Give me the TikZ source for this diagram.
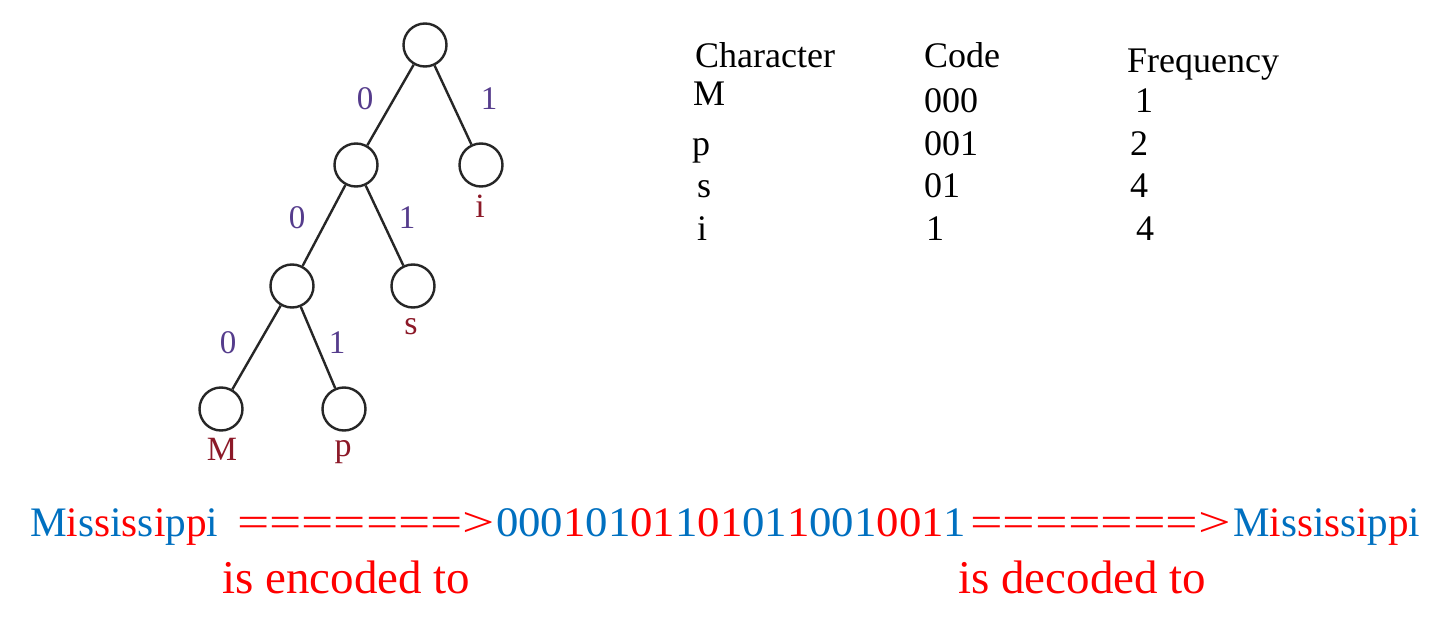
\documentclass[tikz,border=0pt]{standalone}
\usepackage{fontspec}
\setmainfont{Liberation Serif}
\usepackage{graphicx}
\definecolor{cblue}{RGB}{0,112,192}
\definecolor{cred}{RGB}{255,0,0}
\definecolor{lblpurple}{RGB}{85,60,140}
\definecolor{leafred}{RGB}{140,25,40}
\newcommand{\Bx}[1]{\textcolor{cblue}{#1}}
\newcommand{\Rx}[1]{\textcolor{cred}{#1}}
\begin{document}
\begin{tikzpicture}[x=1pt,y=-1pt,
 tnode/.style={circle,draw=black!85,line width=2.4pt,minimum size=43pt,inner sep=0pt},
 tedge/.style={draw=black!85,line width=2.4pt},
 elabel/.style={text=lblpurple,font=\fontsize{33}{36}\selectfont,inner sep=0pt},
 leaflabel/.style={text=leafred,font=\fontsize{34}{38}\selectfont,inner sep=0pt,anchor=base},
 tab/.style={font=\fontsize{36}{40}\selectfont,inner sep=0pt,anchor=base west},
 bigtxt/.style={font=\fontsize{42}{46}\selectfont,inner sep=0pt,anchor=base west},
 note/.style={text=cred,font=\fontsize{47}{52}\selectfont,inner sep=0pt,anchor=base west}]
\useasboundingbox (0,0) rectangle (1438,618);
\fill[white] (0,0) rectangle (1438,618);
% tree
\node[tnode] (root) at (425,45) {};
\node[tnode] (n0) at (356,165) {};
\node[tnode] (ni) at (481,165) {};
\node[tnode] (n00) at (292,286) {};
\node[tnode] (ns) at (413,286) {};
\node[tnode] (nM) at (221,409) {};
\node[tnode] (np) at (344,409) {};
\path[tedge] (root) -- (n0);
\path[tedge] (root) -- (ni);
\path[tedge] (n0) -- (n00);
\path[tedge] (n0) -- (ns);
\path[tedge] (n00) -- (nM);
\path[tedge] (n00) -- (np);
\node[elabel] (e1) at (365,99) {0};
\node[elabel] (e2) at (489,99) {1};
\node[elabel] (e3) at (297,218) {0};
\node[elabel] (e4) at (407,218) {1};
\node[elabel] (e5) at (228,343) {0};
\node[elabel] (e6) at (337,343) {1};
\node[leaflabel] (li) at (480,217) {i};
\node[leaflabel] (ls) at (411,334) {s};
\node[leaflabel] (lM) at (222,460) {M};
\node[leaflabel] (lp) at (343,456) {p};
% table
\node[tab] (h1) at (695,68) {Character};
\node[tab] (h2) at (924,68) {Code};
\node[tab] (h3) at (1127,73) {Frequency};
\node[tab] (r1a) at (693,105) {M};
\node[tab] (r1b) at (924,113) {000};
\node[tab] (r1c) at (1135,113) {1};
\node[tab] (r2a) at (692,155) {p};
\node[tab] (r2b) at (924,155) {001};
\node[tab] (r2c) at (1130,155) {2};
\node[tab] (r3a) at (697,197) {s};
\node[tab] (r3b) at (924,197) {01};
\node[tab] (r3c) at (1130,197) {4};
\node[tab] (r4a) at (697,240) {i};
\node[tab] (r4b) at (926,240) {1};
\node[tab] (r4c) at (1136,240) {4};
% bottom line
\node[bigtxt] (m1) at (30,536) {\resizebox{188pt}{\height}{\Bx{M}\Rx{i}\Bx{s}\Rx{s}\Bx{i}\Rx{s}\Bx{s}\Rx{i}\Bx{p}\Rx{p}\Bx{i}}};
\node[bigtxt] (a1) at (237,536) {\resizebox{258pt}{\height}{\Rx{=======>}}};
\node[bigtxt] (bits) at (496,536) {\resizebox{470pt}{\height}{\Bx{000}\Rx{1}\Bx{01}\Rx{01}\Bx{1}\Rx{01}\Bx{01}\Rx{1}\Bx{001}\Rx{001}\Bx{1}}};
\node[bigtxt] (a2) at (970,536) {\resizebox{261pt}{\height}{\Rx{=======>}}};
\node[bigtxt] (m2) at (1233,536) {\resizebox{187pt}{\height}{\Bx{M}\Rx{i}\Bx{s}\Rx{s}\Bx{i}\Rx{s}\Bx{s}\Rx{i}\Bx{p}\Rx{p}\Bx{i}}};
\node[note] (enc) at (222,593) {is encoded to};
\node[note] (dec) at (958,593) {is decoded to};
\end{tikzpicture}
\end{document}
